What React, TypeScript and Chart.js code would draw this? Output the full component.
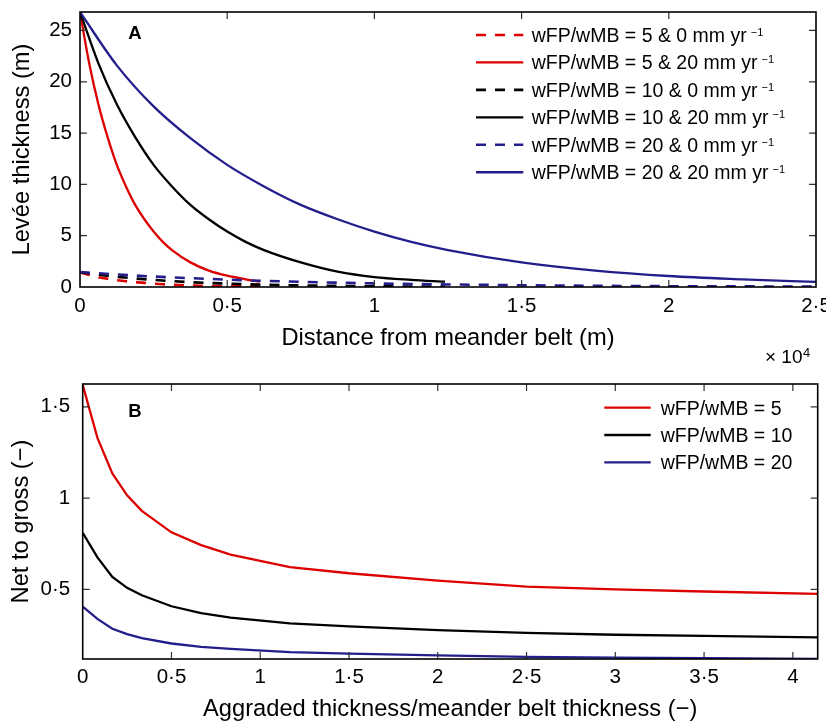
import React, { useEffect, useRef } from "react";
import { Chart, registerables } from "chart.js";
Chart.register(...registerables);

const FONT = "'Liberation Sans', Arial, Helvetica, sans-serif";
const RED = "#dd0000";
const BLACK = "#000000";
const BLUE = "#231e8c";

// ---------- Panel A : levée thickness (m) vs distance from meander belt (m) ----------
const distW5 = [0, 312, 625, 938, 1250, 1562, 1875, 2188, 2500, 2812, 3125, 3750, 4375, 5000, 5625, 6100];
const distW10 = [0, 625, 1250, 1875, 2500, 3125, 3750, 4375, 5000, 5625, 6250, 7500, 8750, 10000, 11250, 12400];
const distW20 = [0, 1250, 2500, 3750, 5000, 6250, 7500, 8750, 10000, 11250, 12500, 15000, 17500, 20000, 22500, 25000];

const levee5_0 = [1.42, 1.17, 0.96, 0.8, 0.67, 0.56, 0.48, 0.4, 0.33, 0.27, 0.22, 0.15, 0.11, 0.08, 0.06, 0.05];
const levee5_20 = [26.8, 21.8, 17.8, 14.6, 11.9, 9.8, 8.0, 6.6, 5.4, 4.4, 3.6, 2.4, 1.6, 1.1, 0.75, 0.52];
const levee10_0 = [1.44, 1.2, 1.0, 0.83, 0.69, 0.57, 0.47, 0.39, 0.33, 0.27, 0.22, 0.15, 0.11, 0.07, 0.05, 0.04];
const levee10_20 = [26.8, 21.8, 17.8, 14.6, 11.9, 9.8, 8.0, 6.6, 5.4, 4.4, 3.6, 2.4, 1.5, 0.97, 0.7, 0.52];
const levee20_0 = [1.46, 1.22, 1.02, 0.86, 0.72, 0.6, 0.5, 0.42, 0.35, 0.29, 0.25, 0.17, 0.12, 0.08, 0.06, 0.04];
const levee20_20 = [26.8, 21.6, 17.6, 14.5, 11.9, 9.8, 8.0, 6.6, 5.4, 4.4, 3.6, 2.4, 1.6, 1.07, 0.75, 0.5];

const legendA = [
  "wFP/wMB = 5 & 0 mm yr",
  "wFP/wMB = 5 & 20 mm yr",
  "wFP/wMB = 10 & 0 mm yr",
  "wFP/wMB = 10 & 20 mm yr",
  "wFP/wMB = 20 & 0 mm yr",
  "wFP/wMB = 20 & 20 mm yr",
];
const xTicksA = [0, 5000, 10000, 15000, 20000, 25000];
const yTicksA = [0, 5, 10, 15, 20, 25];

// ---------- Panel B : net to gross vs aggraded thickness / meander belt thickness ----------
const aggraded = [0, 0.083, 0.167, 0.25, 0.333, 0.5, 0.667, 0.833, 1.167, 1.5, 2, 2.5, 3, 3.5, 4.14];
const ntg5 = [1.62, 1.33, 1.135, 1.015, 0.93, 0.812, 0.742, 0.69, 0.622, 0.588, 0.548, 0.515, 0.5, 0.488, 0.475];
const ntg10 = [0.81, 0.675, 0.568, 0.508, 0.467, 0.407, 0.37, 0.345, 0.313, 0.297, 0.276, 0.261, 0.251, 0.245, 0.237];
const ntg20 = [0.405, 0.338, 0.284, 0.254, 0.233, 0.203, 0.185, 0.173, 0.156, 0.148, 0.138, 0.13, 0.125, 0.122, 0.119];
const legendB = ["wFP/wMB = 5", "wFP/wMB = 10", "wFP/wMB = 20"];
const xTicksB = [0, 0.5, 1, 1.5, 2, 2.5, 3, 3.5, 4];
const yTicksB = [0.5, 1, 1.5];

const fmt = (v: number) => String(Math.round(v * 1000) / 1000).replace(".", "\u00b7");
const pts = (xs: number[], ys: number[]) => xs.map((x, i) => ({ x, y: ys[i] }));

type LegendItem = { color: string; dash: number[]; text: string; sup?: string };
type Deco = {
  letter: string;
  letterDx: number;
  letterDy: number;
  legend: LegendItem[];
  lineX0: number;
  lineX1: number;
  textX: number;
  rowY0: number;
  rowDy: number;
  exponent: boolean;
  xTicks: number[];
  yTicks: number[];
};

function decoPlugin(d: Deco) {
  return {
    id: "deco" + d.letter,
    afterDraw(chart: any) {
      const ctx = chart.ctx as CanvasRenderingContext2D;
      const a = chart.chartArea;
      const xs = chart.scales.x;
      const ys = chart.scales.y;
      ctx.save();
      ctx.strokeStyle = "#333";
      ctx.lineWidth = 1.2;
      ctx.setLineDash([]);
      const TL = 7;
      ctx.beginPath();
      for (const v of d.xTicks) {
        const p = xs.getPixelForValue(v);
        if (p <= a.left + 1 || p >= a.right - 1) continue;
        ctx.moveTo(p, a.bottom);
        ctx.lineTo(p, a.bottom - TL);
        ctx.moveTo(p, a.top);
        ctx.lineTo(p, a.top + TL);
      }
      for (const v of d.yTicks) {
        const p = ys.getPixelForValue(v);
        if (p <= a.top + 1 || p >= a.bottom - 1) continue;
        ctx.moveTo(a.left, p);
        ctx.lineTo(a.left + TL, p);
        ctx.moveTo(a.right, p);
        ctx.lineTo(a.right - TL, p);
      }
      ctx.stroke();
      ctx.strokeStyle = "#000";
      ctx.lineWidth = 1.6;
      ctx.strokeRect(a.left, a.top, a.right - a.left, a.bottom - a.top);
      d.legend.forEach((it, i) => {
        const y = a.top + d.rowY0 + i * d.rowDy;
        ctx.strokeStyle = it.color;
        ctx.lineWidth = it.dash.length ? 2.6 : 2.3;
        ctx.setLineDash(it.dash);
        ctx.beginPath();
        ctx.moveTo(a.right - d.lineX0, y);
        ctx.lineTo(a.right - d.lineX1, y);
        ctx.stroke();
        ctx.setLineDash([]);
        ctx.fillStyle = "#000";
        ctx.font = `19.5px ${FONT}`;
        ctx.textBaseline = "middle";
        ctx.textAlign = "left";
        const tx = a.right - d.textX;
        ctx.fillText(it.text, tx, y + 1.5);
        if (it.sup) {
          const w = ctx.measureText(it.text).width;
          ctx.font = `11px ${FONT}`;
          ctx.fillText(it.sup, tx + w + 4, y - 2);
        }
      });
      ctx.fillStyle = "#000";
      ctx.font = `bold 18.5px ${FONT}`;
      ctx.textBaseline = "middle";
      ctx.textAlign = "left";
      ctx.fillText(d.letter, a.left + d.letterDx, a.top + d.letterDy);
      if (d.exponent) {
        ctx.font = `19px ${FONT}`;
        const ex = a.right - 51;
        const ey = a.bottom + 71;
        ctx.fillText("\u00d7 10", ex, ey);
        const w = ctx.measureText("\u00d7 10").width;
        ctx.font = `13px ${FONT}`;
        ctx.fillText("4", ex + w + 0.5, ey - 5);
      }
      ctx.restore();
    },
  };
}

function axisX(min: number, max: number, ticks: number[], height: number, title: string, tickPad: number, titlePadBottom: number, scaleDiv: number) {
  return {
    type: "linear",
    min,
    max,
    afterBuildTicks: (s: any) => {
      s.ticks = ticks.map((v) => ({ value: v }));
    },
    afterFit: (s: any) => {
      s.height = height;
      s.paddingLeft = 0;
      s.paddingRight = 0;
    },
    ticks: {
      font: { family: FONT, size: 20.5 },
      color: "#000",
      padding: tickPad,
      maxRotation: 0,
      minRotation: 0,
      autoSkip: false,
      callback: (v: any) => fmt(Number(v) / scaleDiv),
    },
    grid: { display: false, drawTicks: false },
    border: { display: false },
    title: {
      display: true,
      text: title,
      color: "#000",
      font: { family: FONT, size: 23.7 },
      padding: { top: 0, bottom: titlePadBottom },
    },
  };
}

function axisY(min: number, max: number, ticks: number[], width: number, title: string, tickPad: number, titlePadTop: number) {
  return {
    type: "linear",
    min,
    max,
    afterBuildTicks: (s: any) => {
      s.ticks = ticks.map((v) => ({ value: v }));
    },
    afterFit: (s: any) => {
      s.width = width;
      s.paddingTop = 0;
      s.paddingBottom = 0;
    },
    ticks: {
      font: { family: FONT, size: 20.5 },
      color: "#000",
      padding: tickPad,
      autoSkip: false,
      callback: (v: any) => fmt(Number(v)),
    },
    grid: { display: false, drawTicks: false },
    border: { display: false },
    title: {
      display: true,
      text: title,
      color: "#000",
      font: { family: FONT, size: 23.7 },
      padding: { top: titlePadTop, bottom: 0 },
    },
  };
}

export default function App() {
  const refA = useRef<HTMLCanvasElement>(null);
  const refB = useRef<HTMLCanvasElement>(null);

  useEffect(() => {
    const seriesA = [
      { xs: distW5, ys: levee5_0, color: RED, dash: [10, 9] },
      { xs: distW5, ys: levee5_20, color: RED, dash: [] as number[] },
      { xs: distW10, ys: levee10_0, color: BLACK, dash: [10, 9] },
      { xs: distW10, ys: levee10_20, color: BLACK, dash: [] as number[] },
      { xs: distW20, ys: levee20_0, color: BLUE, dash: [10, 9] },
      { xs: distW20, ys: levee20_20, color: BLUE, dash: [] as number[] },
    ];
    const chartA = new Chart(refA.current as HTMLCanvasElement, {
      type: "line",
      data: {
        datasets: seriesA.map((s, i) => ({
          label: legendA[i],
          data: pts(s.xs, s.ys),
          borderColor: s.color,
          borderWidth: s.dash.length ? 2.6 : 2.3,
          borderDash: s.dash,
          pointRadius: 0,
          fill: false,
          cubicInterpolationMode: "monotone",
          order: 5 - i,
        })),
      },
      options: {
        animation: false,
        responsive: false,
        devicePixelRatio: 1,
        events: [],
        parsing: false,
        layout: { padding: { left: 0, top: 12, right: 44, bottom: 0 } },
        scales: {
          x: axisX(0, 25000, xTicksA, 85, "Distance from meander belt (m)", 7, 19.3, 10000),
          y: axisY(0, 26.8, yTicksA, 80, "Lev\u00e9e thickness (m)", 8, 8.5),
        } as any,
        plugins: { legend: { display: false }, tooltip: { enabled: false } },
      } as any,
      plugins: [
        decoPlugin({
          letter: "A",
          letterDx: 48.3,
          letterDy: 21.5,
          legend: seriesA.map((s, i) => ({ color: s.color, dash: s.dash, text: legendA[i], sup: "\u22121" })),
          lineX0: 340,
          lineX1: 292.7,
          textX: 284.3,
          rowY0: 23,
          rowDy: 27.45,
          exponent: true,
          xTicks: xTicksA,
          yTicks: yTicksA,
        }),
      ],
    });

    const seriesB = [
      { ys: ntg5, color: RED },
      { ys: ntg10, color: BLACK },
      { ys: ntg20, color: BLUE },
    ];
    const chartB = new Chart(refB.current as HTMLCanvasElement, {
      type: "line",
      data: {
        datasets: seriesB.map((s, i) => ({
          label: legendB[i],
          data: pts(aggraded, s.ys),
          borderColor: s.color,
          borderWidth: 2.3,
          pointRadius: 0,
          fill: false,
          tension: 0,
          order: 2 - i,
        })),
      },
      options: {
        animation: false,
        responsive: false,
        devicePixelRatio: 1,
        events: [],
        parsing: false,
        layout: { padding: { left: 0, top: 12, right: 42.3, bottom: 0 } },
        scales: {
          x: axisX(0, 4.14, xTicksB, 65, "Aggraded thickness/meander belt thickness (\u2212)", 6.5, 0, 1),
          y: axisY(0.118, 1.625, yTicksB, 82.7, "Net to gross (\u2212)", 12.5, 7.5),
        } as any,
        plugins: { legend: { display: false }, tooltip: { enabled: false } },
      } as any,
      plugins: [
        decoPlugin({
          letter: "B",
          letterDx: 45.6,
          letterDy: 27.7,
          legend: seriesB.map((s, i) => ({ color: s.color, dash: [], text: legendB[i] })),
          lineX0: 213.4,
          lineX1: 167,
          textX: 157,
          rowY0: 23.7,
          rowDy: 27.3,
          exponent: false,
          xTicks: xTicksB,
          yTicks: yTicksB,
        }),
      ],
    });

    return () => {
      chartA.destroy();
      chartB.destroy();
    };
  }, []);

  return (
    <div style={{ position: "absolute", left: 0, top: 0, width: 826, height: 724, overflow: "hidden", background: "#fff" }}>
      <canvas ref={refA} width={860} height={372} style={{ position: "absolute", left: 0, top: 0, width: 860, height: 372 }} />
      <canvas ref={refB} width={860} height={352} style={{ position: "absolute", left: 0, top: 372, width: 860, height: 352 }} />
    </div>
  );
}
